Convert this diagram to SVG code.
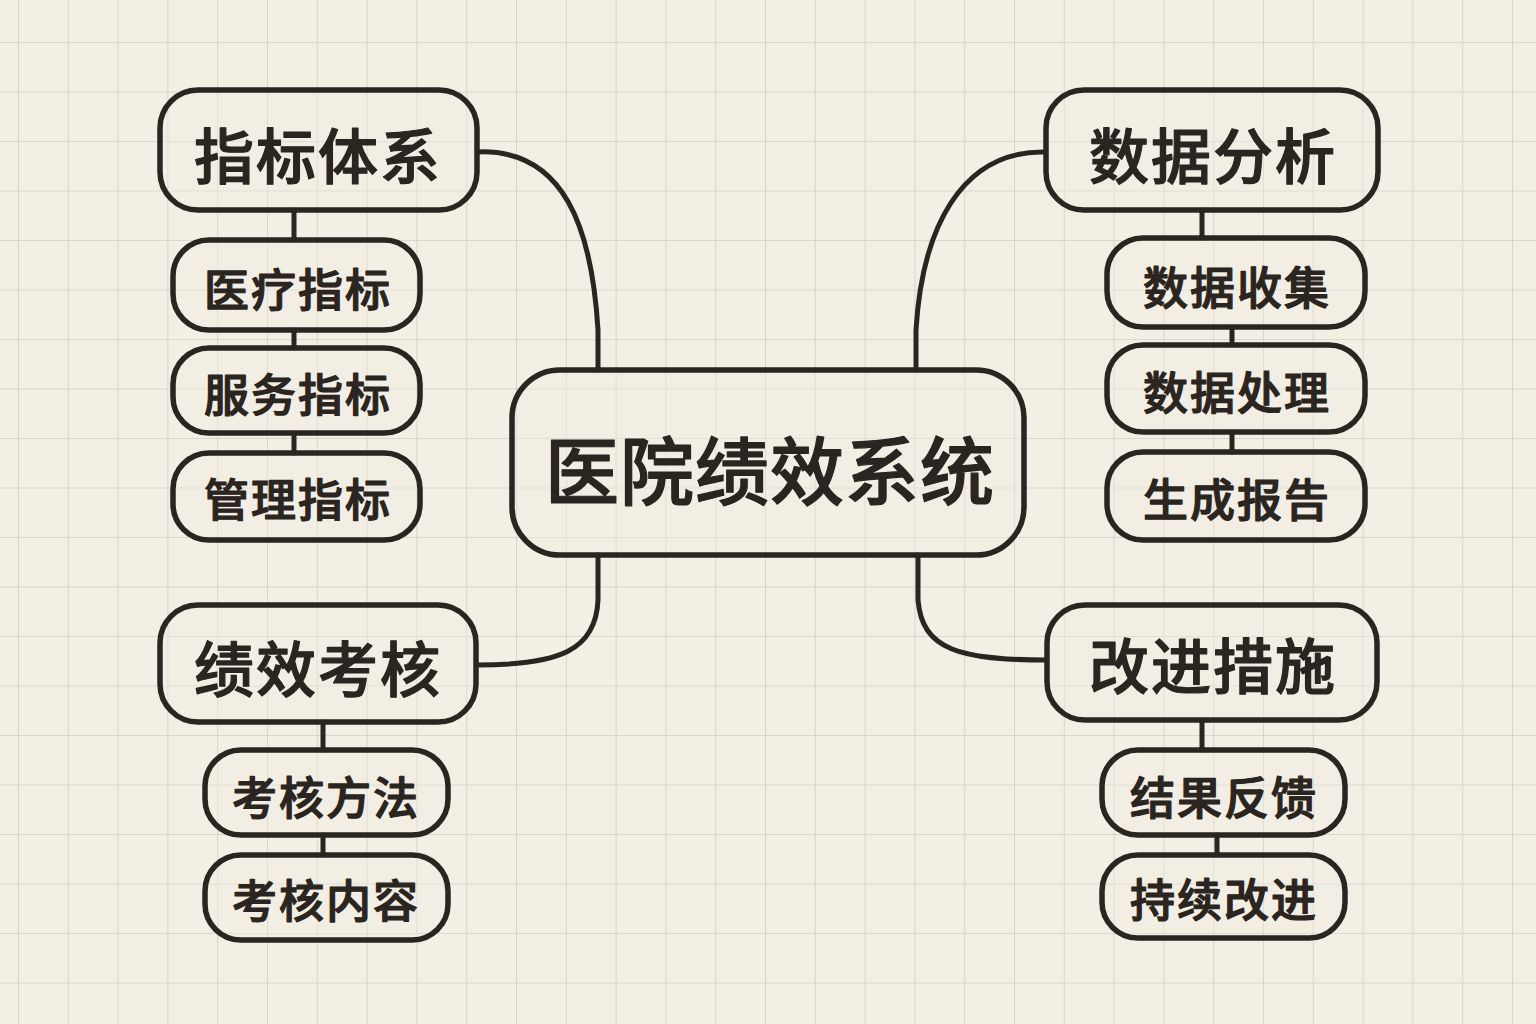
<svg xmlns="http://www.w3.org/2000/svg" width="1536" height="1024" viewBox="0 0 1536 1024">
<defs>
<pattern id="grid" x="18" y="42" width="49.8" height="49.5" patternUnits="userSpaceOnUse">
<path d="M0,0 H49.8 M0,0 V49.5" fill="none" stroke="#d3cfc5" stroke-width="1.6"/>
</pattern>
<style>
.box{fill:#f3efe4;fill-opacity:0.35;stroke:#2a2520;stroke-width:5.5}
.ln{fill:none;stroke:#2a2520;stroke-width:5;stroke-linecap:round}
text{font-family:"Noto Sans CJK SC","Noto Sans",sans-serif;fill:#2a2520;stroke:#2a2520;stroke-width:1.2;stroke-linejoin:round;text-anchor:middle;dominant-baseline:central;font-weight:500}
.t0{font-size:74px;letter-spacing:1px}
.t1{font-size:60px;letter-spacing:2px}
.t2{font-size:45px;letter-spacing:2px}
</style>
</defs>
<rect width="1536" height="1024" fill="#f3efe4"/>
<rect width="1536" height="1024" fill="url(#grid)"/>
<g id="connectors">
<path class="ln" d="M477,152 C565,148 592,230 598,330 L598,370"/>
<path class="ln" d="M1046,152 C960,150 922,230 916,330 L916,370"/>
<path class="ln" d="M598,555 L598,600 C596,650 560,665 477,665"/>
<path class="ln" d="M918,555 L918,600 C922,650 960,660 1047,660"/>
<path class="ln" d="M294,210 V240 M294,330 V348 M294,433 V453"/>
<path class="ln" d="M1202,210 V238 M1232,327 V345 M1232,432 V452"/>
<path class="ln" d="M323,722 V750 M323,835 V855"/>
<path class="ln" d="M1202,720 V750 M1217,835 V855"/>
</g>
<g id="center">
<rect class="box" x="512" y="370" width="512" height="185" rx="48"/>
<text class="t0" x="770" y="466">医院绩效系统</text>
</g>
<g id="n-zhibiao">
<rect class="box" x="160" y="90" width="317" height="120" rx="38"/>
<text class="t1" x="318" y="152">指标体系</text>
</g>
<g id="n-yiliao">
<rect class="box" x="173" y="240" width="247" height="90" rx="36"/>
<text class="t2" x="298" y="287">医疗指标</text>
</g>
<g id="n-fuwu">
<rect class="box" x="173" y="348" width="247" height="85" rx="36"/>
<text class="t2" x="298" y="392">服务指标</text>
</g>
<g id="n-guanli">
<rect class="box" x="173" y="453" width="247" height="87" rx="36"/>
<text class="t2" x="298" y="497">管理指标</text>
</g>
<g id="n-kaohe">
<rect class="box" x="160" y="605" width="316" height="117" rx="38"/>
<text class="t1" x="318" y="665">绩效考核</text>
</g>
<g id="n-fangfa">
<rect class="box" x="205" y="750" width="243" height="85" rx="36"/>
<text class="t2" x="326" y="795">考核方法</text>
</g>
<g id="n-neirong">
<rect class="box" x="205" y="855" width="243" height="85" rx="36"/>
<text class="t2" x="326" y="898">考核内容</text>
</g>
<g id="n-shuju">
<rect class="box" x="1046" y="90" width="332" height="120" rx="38"/>
<text class="t1" x="1213" y="152">数据分析</text>
</g>
<g id="n-shouji">
<rect class="box" x="1107" y="238" width="258" height="89" rx="36"/>
<text class="t2" x="1237" y="285">数据收集</text>
</g>
<g id="n-chuli">
<rect class="box" x="1107" y="345" width="258" height="87" rx="36"/>
<text class="t2" x="1237" y="390">数据处理</text>
</g>
<g id="n-baogao">
<rect class="box" x="1107" y="452" width="258" height="88" rx="36"/>
<text class="t2" x="1237" y="497">生成报告</text>
</g>
<g id="n-gaijin">
<rect class="box" x="1047" y="605" width="330" height="115" rx="38"/>
<text class="t1" x="1213" y="662">改进措施</text>
</g>
<g id="n-fankui">
<rect class="box" x="1102" y="750" width="243" height="85" rx="36"/>
<text class="t2" x="1224" y="795">结果反馈</text>
</g>
<g id="n-chixu">
<rect class="box" x="1102" y="855" width="243" height="83" rx="36"/>
<text class="t2" x="1224" y="897">持续改进</text>
</g>
</svg>
